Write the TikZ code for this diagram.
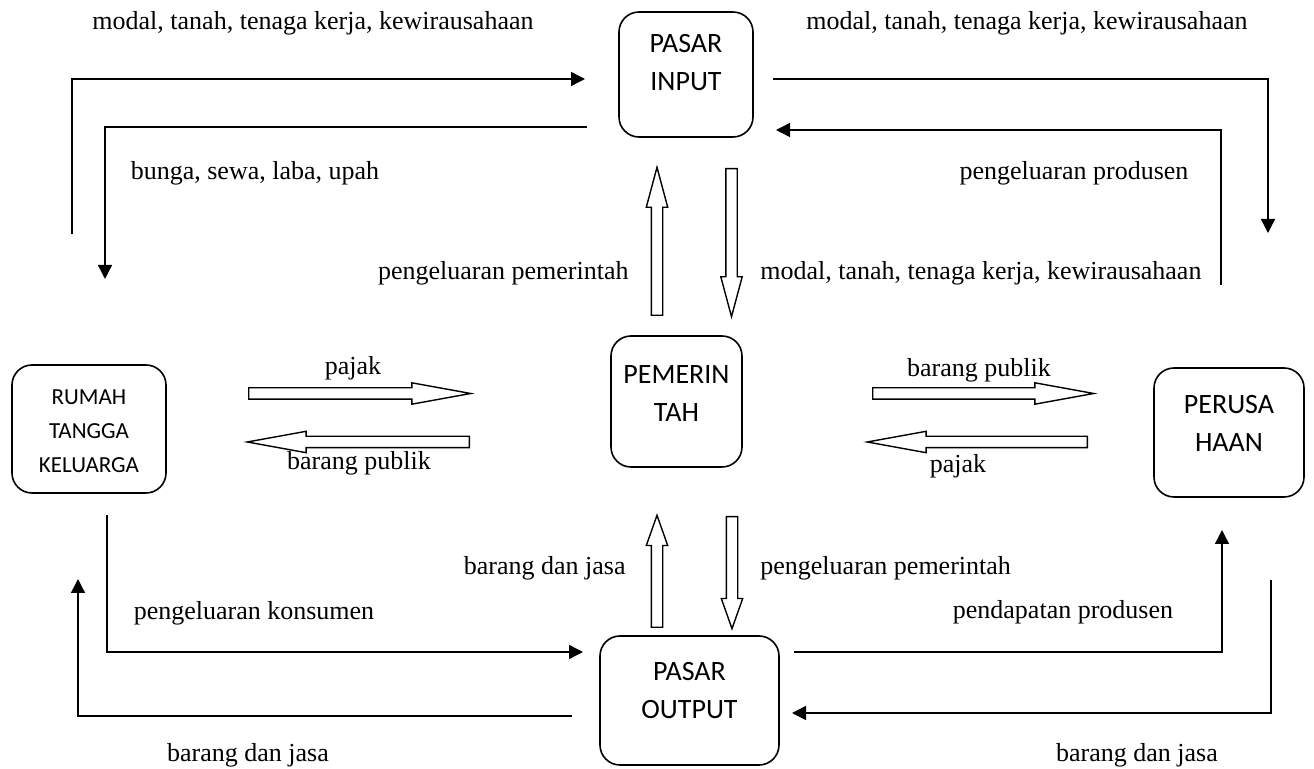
\documentclass[tikz,border=0pt]{standalone}
\usepackage{fontspec}
\setmainfont{Liberation Serif}
\newfontfamily\boxfont{Carlito}
\usetikzlibrary{arrows.meta,shapes.arrows}

\tikzset{
  sector/.style={draw, rounded corners=10pt, line width=0.8pt, inner sep=0pt},
  sectxt/.style={font=\boxfont\fontsize{14}{19}\selectfont, align=center},
  smalltxt/.style={font=\boxfont\fontsize{11.5}{17}\selectfont, align=center},
  lbl/.style={font=\fontsize{13}{15}\selectfont, inner sep=0pt},
  flow/.style={-{Triangle[length=7pt,width=7pt]}, line width=0.7pt},
  hollow/.style={draw, single arrow, anchor=tail, line width=0.7pt, inner xsep=0pt, inner ysep=2.5pt,
    single arrow head extend=2.5pt}
}

\begin{document}
\begin{tikzpicture}[x=0.5pt,y=-0.5pt]
    \useasboundingbox (0,0) rectangle (1314,769);

    % Define nodes
    \node[sector, minimum width=67pt, minimum height=62.5pt] (input) at (686,74.5) {};
    \node[sectxt] (inputtxt) at ([yshift=6pt]input.center) {PASAR\\INPUT};

    \node[sector, minimum width=65.5pt, minimum height=65.5pt] (gov) at (676.5,401.5) {};
    \node[sectxt] (govtxt) at ([yshift=4pt]gov.center) {PEMERIN\\TAH};

    \node[sector, minimum width=77pt, minimum height=64pt] (hh) at (89,429) {};
    \node[smalltxt] (hhtxt) at ([yshift=-1pt]hh.center) {RUMAH\\TANGGA\\KELUARGA};

    \node[sector, minimum width=75pt, minimum height=64.5pt] (firm) at (1229,432.5) {};
    \node[sectxt] (firmtxt) at ([yshift=4.5pt]firm.center) {PERUSA\\HAAN};

    \node[sector, minimum width=89.5pt, minimum height=64.5pt] (output) at (689.5,700.5) {};
    \node[sectxt] (outputtxt) at ([yshift=5pt]output.center) {PASAR\\OUTPUT};

    % hollow arrows round the government
    \node[hollow, rotate=90, minimum height=74pt, single arrow tip angle=30] (govup) at (657,316) {};
    \node[hollow, rotate=-90, minimum height=74pt, single arrow tip angle=30] (govdown) at (731.5,168) {};
    \node[hollow, minimum height=111pt, single arrow tip angle=20.6] (taxhh) at (248,393.5) {};
    \node[hollow, rotate=180, minimum height=111pt, single arrow tip angle=20.6] (pubhh) at (470,442) {};
    \node[hollow, minimum height=110.5pt, single arrow tip angle=20.6] (pubfirm) at (872,393.5) {};
    \node[hollow, rotate=180, minimum height=110pt, single arrow tip angle=20.6] (taxfirm) at (1088,442) {};
    \node[hollow, rotate=90, minimum height=56pt, single arrow tip angle=39] (goodsgov) at (657,628) {};
    \node[hollow, rotate=-90, minimum height=56pt, single arrow tip angle=39] (spendgov) at (732,516) {};

    % ends of the flow lines
    \coordinate (a0) at (72,234);   \coordinate (a1) at (72,79);    \coordinate (a2) at (585,79);
    \coordinate (b0) at (587,127);  \coordinate (b1) at (105,127);  \coordinate (b2) at (105,279);
    \coordinate (c0) at (773,79);   \coordinate (c1) at (1268,79);  \coordinate (c2) at (1268,233);
    \coordinate (d0) at (1221,285); \coordinate (d1) at (1221,130); \coordinate (d2) at (776,130);
    \coordinate (e0) at (107,515);  \coordinate (e1) at (107,652);  \coordinate (e2) at (583,652);
    \coordinate (f0) at (572,716);  \coordinate (f1) at (78,716);   \coordinate (f2) at (78,579);
    \coordinate (g0) at (794,652);  \coordinate (g1) at (1222,652); \coordinate (g2) at (1222,530);
    \coordinate (h0) at (1271,580); \coordinate (h1) at (1271,713); \coordinate (h2) at (792,713);

    % Draw arrows
    \draw[flow] (a0) -- (a1) -- (a2);
    \draw[flow] (b0) -- (b1) -- (b2);
    \draw[flow] (c0) -- (c1) -- (c2);
    \draw[flow] (d0) -- (d1) -- (d2);
    \draw[flow] (e0) -- (e1) -- (e2);
    \draw[flow] (f0) -- (f1) -- (f2);
    \draw[flow] (g0) -- (g1) -- (g2);
    \draw[flow] (h0) -- (h1) -- (h2);

    % labels
    \node[lbl] (factl) at (313,23) {modal, tanah, tenaga kerja, kewirausahaan};
    \node[lbl] (factr) at (1027,23) {modal, tanah, tenaga kerja, kewirausahaan};
    \node[lbl] (income) at (255,173) {bunga, sewa, laba, upah};
    \node[lbl] (prodspend) at (1074,173) {pengeluaran produsen};
    \node[lbl, anchor=east] (govspend) at (629,273) {pengeluaran pemerintah};
    \node[lbl, anchor=west] (factgov) at (760,273) {modal, tanah, tenaga kerja, kewirausahaan};
    \node[lbl] (taxl) at (353,368) {pajak};
    \node[lbl] (publ) at (359,463) {barang publik};
    \node[lbl] (pubr) at (979,370) {barang publik};
    \node[lbl] (taxr) at (958,466) {pajak};
    \node[lbl, anchor=east] (goodsmid) at (626,568) {barang dan jasa};
    \node[lbl, anchor=west] (spendmid) at (760,568) {pengeluaran pemerintah};
    \node[lbl] (consspend) at (254,613) {pengeluaran konsumen};
    \node[lbl] (prodinc) at (1063,612) {pendapatan produsen};
    \node[lbl] (goodsl) at (248,755) {barang dan jasa};
    \node[lbl] (goodsr) at (1137,755) {barang dan jasa};
\end{tikzpicture}
\end{document}
